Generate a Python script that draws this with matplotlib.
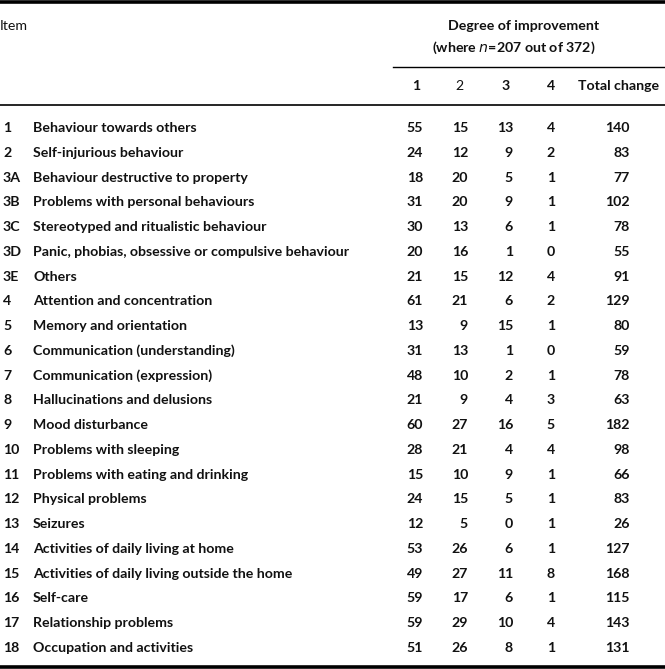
import matplotlib
matplotlib.use("Agg")
import matplotlib.pyplot as plt
from matplotlib.lines import Line2D

item_ids = ["1", "2", "3A", "3B", "3C", "3D", "3E", "4", "5", "6", "7", "8", "9",
            "10", "11", "12", "13", "14", "15", "16", "17", "18"]
item_names = [
    "Behaviour towards others",
    "Self-injurious behaviour",
    "Behaviour destructive to property",
    "Problems with personal behaviours",
    "Stereotyped and ritualistic behaviour",
    "Panic, phobias, obsessive or compulsive behaviour",
    "Others",
    "Attention and concentration",
    "Memory and orientation",
    "Communication (understanding)",
    "Communication (expression)",
    "Hallucinations and delusions",
    "Mood disturbance",
    "Problems with sleeping",
    "Problems with eating and drinking",
    "Physical problems",
    "Seizures",
    "Activities of daily living at home",
    "Activities of daily living outside the home",
    "Self-care",
    "Relationship problems",
    "Occupation and activities",
]
deg1 = [55, 24, 18, 31, 30, 20, 21, 61, 13, 31, 48, 21, 60, 28, 15, 24, 12, 53, 49, 59, 59, 51]
deg2 = [15, 12, 20, 20, 13, 16, 15, 21, 9, 13, 10, 9, 27, 21, 10, 15, 5, 26, 27, 17, 29, 26]
deg3 = [13, 9, 5, 9, 6, 1, 12, 6, 15, 1, 2, 4, 16, 4, 9, 5, 0, 6, 11, 6, 10, 8]
deg4 = [4, 2, 1, 1, 1, 0, 4, 2, 1, 0, 1, 3, 5, 4, 1, 1, 1, 1, 8, 1, 4, 1]
total = [140, 83, 77, 102, 78, 55, 91, 129, 80, 59, 78, 63, 182, 98, 66, 83, 26, 127, 168, 115, 143, 131]
col_headers = ["1", "2", "3", "4", "Total change"]

W, H = 665, 669
fig = plt.figure(figsize=(W / 100, H / 100), dpi=100)
ax = fig.add_axes([0, 0, 1, 1])
ax.set_xlim(0, W)
ax.set_ylim(H, 0)
ax.axis("off")

FONT = "Lato"
FS = 10.2
kw = dict(family=FONT, fontsize=FS, color="#111111", va="center")

# rules
ax.add_line(Line2D([0, W], [2, 2], color="black", lw=2.6))
ax.add_line(Line2D([393, W], [67, 67], color="black", lw=1.0))
ax.add_line(Line2D([0, W], [104.5, 104.5], color="black", lw=1.2))
ax.add_line(Line2D([0, W], [666.5, 666.5], color="black", lw=2.6))

# header
ax.text(0, 26, "Item", ha="left", fontweight="normal", **kw)
ax.text(524, 26, "Degree of improvement", ha="center", fontweight="bold", **kw)
ax.text(514, 48, "(where $n$=207 out of 372)", ha="center", fontweight="bold", **kw)
hdr_x = [420, 464, 510, 555, 659]
for hx, h in zip(hdr_x, col_headers):
    ax.text(hx, 86, h, ha="right", fontweight="bold" if h != "2" else "normal", **kw)

# body
y0, dy = 128, (648 - 128) / 21
col_right = [423, 468, 513, 555, 630]
for i in range(len(item_ids)):
    y = y0 + i * dy
    ax.text(3, y, item_ids[i], ha="left", fontweight="bold", **kw)
    ax.text(33, y, item_names[i], ha="left", fontweight="bold", **kw)
    vals = [deg1[i], deg2[i], deg3[i], deg4[i], total[i]]
    for cx, v in zip(col_right, vals):
        ax.text(cx, y, str(v), ha="right", fontweight="bold", **kw)

fig.savefig("out.png", dpi=100)
